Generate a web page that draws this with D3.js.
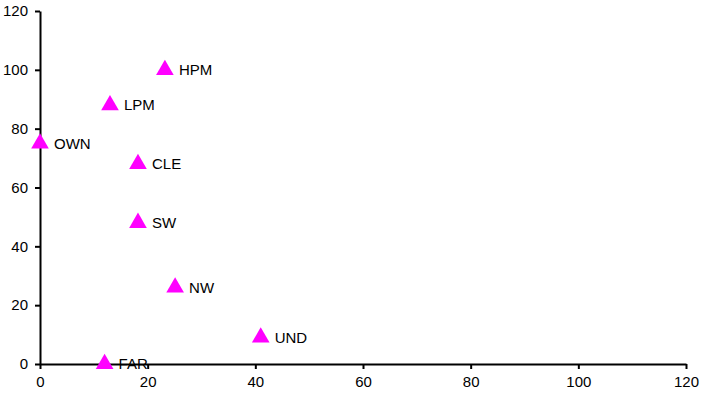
<!DOCTYPE html>
<html>
<head>
<meta charset="utf-8">
<script src="https://cdn.jsdelivr.net/npm/d3@7"></script>
<style>
  body { margin: 0; background: #fff; }
  svg { display: block; }
  text { font-family: "Liberation Sans", Arial, sans-serif; font-size: 15px; fill: #000; }
</style>
</head>
<body>
<svg id="chart"></svg>
<script>
// values
const labels = ['HPM', 'LPM', 'OWN', 'CLE', 'SW', 'NW', 'UND', 'FAR']
const xValues = [23.2, 13, 0, 18.2, 18.2, 25.1, 41, 12]
const yValues = [100, 88, 75, 68, 48, 26, 9, 0]
const ticks = [0, 20, 40, 60, 80, 100, 120]

let dimensions = {
  width: 701,
  height: 395,
  margin: { top: 11, bottom: 31, right: 15, left: 40 }
}

let svg = d3.select('#chart')
  .attr('width', dimensions.width)
  .attr('height', dimensions.height)

let xScale = d3.scaleLinear()
  .domain([0, 120])
  .range([dimensions.margin.left, dimensions.width - dimensions.margin.right])

let yScale = d3.scaleLinear()
  .domain([0, 120])
  .range([dimensions.height - dimensions.margin.bottom, dimensions.margin.top])

let xAxisgen = d3.axisBottom(xScale).tickValues(ticks).tickSize(5).tickPadding(7).tickSizeOuter(0)
let yAxisgen = d3.axisLeft(yScale).tickValues(ticks).tickSize(5).tickPadding(7).tickSizeOuter(0)

let xAxis = svg.append('g')
  .attr('transform', `translate(0,${yScale(0)})`)
  .call(xAxisgen)
let yAxis = svg.append('g')
  .attr('transform', `translate(${xScale(0)},0)`)
  .call(yAxisgen)

svg.selectAll('.domain, .tick line')
  .attr('stroke', '#000')
  .attr('stroke-width', 2)
svg.selectAll('.tick text')
  .attr('font-size', 15)
  .attr('font-family', '"Liberation Sans", Arial, sans-serif')

let points = labels.map((l, i) => ({ label: l, x: xValues[i], y: yValues[i] }))

let triangle = d3.symbol().type(d3.symbolTriangle).size(135)

svg.selectAll('path.pt')
  .data(points)
  .enter()
  .append('path')
  .attr('class', 'pt')
  .attr('d', triangle)
  .attr('transform', d => `translate(${xScale(d.x)},${yScale(d.y)})`)
  .attr('fill', '#ff00ff')

svg.selectAll('text.lbl')
  .data(points)
  .enter()
  .append('text')
  .attr('class', 'lbl')
  .attr('x', d => xScale(d.x) + 14)
  .attr('y', d => yScale(d.y))
  .attr('dy', '0.35em')
  .text(d => d.label)
</script>
</body>
</html>
